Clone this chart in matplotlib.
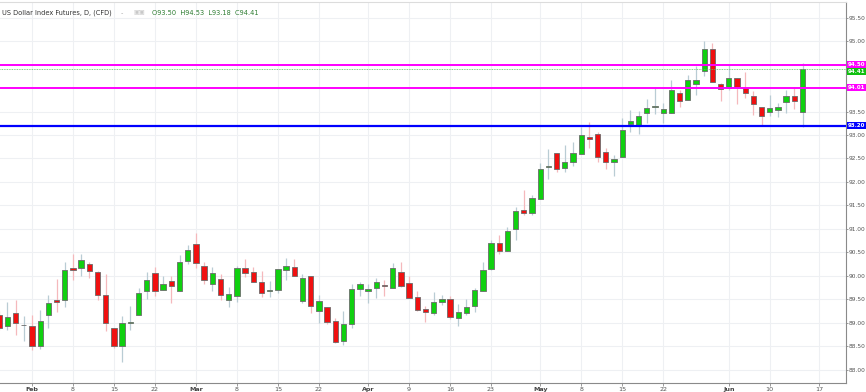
import numpy as np
import matplotlib
matplotlib.use("Agg")
import matplotlib.pyplot as plt
import matplotlib.transforms as mtransforms

# Daily candles (bar index 0..98)
opens = [89.17, 88.94, 89.22, 88.95, 88.94, 88.50, 89.18, 89.48, 89.49, 90.17,
         90.18, 90.26, 90.08, 89.60, 88.89, 88.50, 89.00, 89.17, 89.67, 90.07,
         89.70, 89.89, 89.67, 90.31, 90.68, 90.21, 89.84, 89.94, 89.49, 89.58,
         90.18, 90.08, 89.88, 89.69, 89.70, 90.13, 90.19, 89.47, 89.99, 89.26,
         89.33, 89.04, 88.62, 88.97, 89.72, 89.68, 89.74, 89.81, 89.75, 90.08,
         89.86, 89.55, 89.29, 89.21, 89.45, 89.50, 89.11, 89.22, 89.36, 89.67,
         90.15, 90.70, 90.54, 91.01, 91.40, 91.35, 91.64, 92.31, 92.61, 92.29,
         92.43, 92.59, 92.95, 93.02, 92.63, 92.43, 92.54, 93.23, 93.21, 93.46,
         93.60, 93.47, 93.47, 93.89, 93.75, 94.09, 94.37, 94.82, 94.08, 93.99,
         94.21, 94.01, 93.84, 93.60, 93.49, 93.54, 93.71, 93.84, 93.50]
highs = [89.25, 89.45, 89.49, 89.15, 89.17, 89.28, 89.60, 89.94, 90.29, 90.47,
         90.47, 90.30, 90.10, 90.04, 88.90, 89.15, 89.36, 89.74, 90.08, 90.20,
         90.00, 90.00, 90.45, 90.67, 90.91, 90.30, 90.20, 90.04, 89.76, 90.22,
         90.36, 90.20, 90.11, 89.89, 90.14, 90.39, 90.36, 90.04, 89.99, 89.60,
         89.33, 89.10, 89.26, 89.84, 89.88, 89.84, 89.95, 89.91, 90.28, 90.30,
         90.00, 89.67, 89.36, 89.66, 89.60, 89.57, 89.40, 89.50, 89.74, 90.30,
         90.77, 90.87, 91.05, 91.46, 91.82, 91.72, 92.40, 92.70, 92.61, 92.79,
         92.86, 93.16, 93.28, 93.07, 92.73, 92.57, 93.36, 93.53, 93.51, 93.77,
         93.99, 93.69, 94.16, 93.95, 94.28, 94.47, 95.00, 94.95, 94.10, 94.49,
         94.21, 94.33, 93.93, 93.60, 93.85, 93.68, 93.95, 94.01, 94.53]
lows = [88.85, 88.85, 88.74, 88.62, 88.43, 88.45, 88.89, 89.24, 89.35, 89.91,
        90.00, 89.96, 89.49, 88.83, 88.47, 88.16, 88.85, 89.17, 89.50, 89.57,
        89.70, 89.43, 89.67, 90.25, 90.16, 89.84, 89.67, 89.49, 89.35, 89.44,
        89.97, 89.88, 89.56, 89.56, 89.63, 89.91, 89.99, 89.42, 89.22, 89.01,
        88.98, 88.57, 88.53, 88.90, 89.58, 89.42, 89.53, 89.58, 89.75, 89.77,
        89.53, 89.26, 89.03, 89.17, 89.38, 89.09, 88.94, 89.17, 89.24, 89.67,
        90.13, 90.47, 90.54, 90.77, 91.30, 91.30, 91.64, 92.06, 92.22, 92.22,
        92.33, 92.59, 92.72, 92.42, 92.27, 92.13, 92.54, 93.07, 93.02, 93.26,
        93.45, 93.25, 93.47, 93.59, 93.75, 93.85, 94.26, 94.13, 93.73, 93.95,
        93.66, 93.78, 93.43, 93.21, 93.40, 93.38, 93.47, 93.55, 93.18]
closes = [88.89, 89.13, 88.99, 88.96, 88.50, 89.04, 89.42, 89.45, 90.13, 90.13,
          90.33, 90.11, 89.60, 88.99, 88.50, 89.01, 89.02, 89.64, 89.91, 89.67,
          89.82, 89.79, 90.29, 90.56, 90.28, 89.91, 90.06, 89.60, 89.61, 90.16,
          90.07, 89.88, 89.64, 89.70, 90.14, 90.21, 89.99, 89.95, 89.37, 89.47,
          89.03, 88.60, 88.97, 89.72, 89.82, 89.72, 89.87, 89.79, 90.16, 89.79,
          89.53, 89.28, 89.24, 89.45, 89.50, 89.13, 89.23, 89.35, 89.70, 90.13,
          90.71, 90.54, 90.96, 91.38, 91.35, 91.65, 92.27, 92.35, 92.27, 92.43,
          92.61, 92.99, 92.91, 92.54, 92.43, 92.48, 93.11, 93.30, 93.40, 93.57,
          93.62, 93.55, 93.95, 93.72, 94.17, 94.17, 94.82, 94.13, 93.98, 94.21,
          94.02, 93.90, 93.65, 93.40, 93.57, 93.59, 93.83, 93.72, 94.41]

# x-axis labels at bar indices
tick_idx = [4, 9, 14, 19, 24, 29, 34, 39, 45, 50, 55, 60, 66, 71, 76, 81, 89, 94, 100]
tick_lbl = ["Feb", "8", "15", "22", "Mar", "8", "15", "22", "Apr", "9", "16", "23",
            "May", "8", "15", "22", "Jun", "10", "17"]
months = {"Feb", "Mar", "Apr", "May", "Jun"}

# drawn levels
magenta_levels = [94.50, 94.01]
blue_levels = [93.20]
last_close = 94.41

title = "US Dollar Index Futures, D, (CFD)"
ohlc_text = "O93.50  H94.53  L93.18  C94.41"

NARROW = ["Liberation Sans Narrow", "DejaVu Sans"]

W, H = 866, 392
fig = plt.figure(figsize=(W / 100, H / 100), dpi=100)
ax = fig.add_axes([0, 9 / H, 846 / W, 381 / H])

x = np.arange(len(opens))
o = np.array(opens)
c = np.array(closes)
up = c >= o

# wicks
wick_col = np.where(up, "#b9ccd4", "#f5b8bc")
ax.vlines(x, lows, highs, colors=wick_col, lw=0.9, zorder=2)

# bodies
body_col = np.where(up, "#10d010", "#f01010")
bottom = np.minimum(o, c)
height = np.maximum(np.abs(c - o), 0.012)
ax.bar(x, height, bottom=bottom, width=0.65, color=body_col,
       edgecolor="#6b6b6b", linewidth=0.6, zorder=3)

# horizontal levels
for lv in magenta_levels:
    ax.axhline(lv, color="#ff00ff", lw=1.4, zorder=4)
for lv in blue_levels:
    ax.axhline(lv, color="#0000ff", lw=1.6, zorder=4)
ax.axhline(last_close, color="#5fbf5f", lw=0.6, ls=(0, (1, 1)), zorder=4)

ax.set_xlim(0.1, 103.3)
ax.set_ylim(87.723, 95.83)

# grid
yt = np.arange(88.0, 95.51, 0.5)
for v in yt:
    ax.axhline(v, color="#eef0f3", lw=0.8, zorder=0)
for t in tick_idx:
    ax.axvline(t, color="#eef0f3", lw=0.8, zorder=0)

# axes styling
ax.spines["left"].set_visible(False)
ax.spines["top"].set_color("#dcdcdc")
ax.spines["top"].set_linewidth(0.8)
ax.spines["right"].set_color("#8a8a8a")
ax.spines["bottom"].set_color("#8a8a8a")

ax.yaxis.tick_right()
ax.set_yticks(yt)
ax.set_yticklabels(["" if v in (94.0, 94.5) else f"{v:.2f}" for v in yt],
                   family=NARROW)
ax.tick_params(axis="y", labelsize=4.2, labelcolor="#555555", length=1.5,
               color="#8a8a8a", pad=0.5, width=0.6)

ax.set_xticks(tick_idx)
ax.set_xticklabels(tick_lbl)
ax.tick_params(axis="x", labelsize=4.6, labelcolor="#555555", length=2,
               color="#8a8a8a", pad=0.8, width=0.6)
for lab in ax.get_xticklabels():
    if lab.get_text() in months:
        lab.set_fontweight("bold")
        lab.set_color("#444444")

# price labels on the right scale (the 94.41 tag is nudged down as on the chart)
trans = mtransforms.blended_transform_factory(ax.transAxes, ax.transData)
boxes = [(94.50, 94.50, "#ff00ff"), (last_close, 94.35, "#10c010"),
         (94.01, 94.01, "#ff00ff"), (93.20, 93.20, "#0000ff")]
for val, ypos, col in boxes:
    ax.text(1.0025, ypos, f"{val:.2f}", transform=trans, fontsize=4.0, color="white",
            family=NARROW, fontweight="bold", va="center", ha="left",
            clip_on=False, zorder=6,
            bbox=dict(boxstyle="square,pad=0.15", fc=col, ec="none"))

# header
fig.text(2 / W, 1 - 13 / H, title, fontsize=4.8, color="#333333", va="center", ha="left")
fig.text(121 / W, 1 - 13 / H, "-", fontsize=4.8, color="#aaaaaa", va="center", ha="left")
fig.text(133 / W, 1 - 13 / H, "▣▣", fontsize=4.5, color="#c8c8c8", va="center", ha="left")
fig.text(152 / W, 1 - 13 / H, ohlc_text, fontsize=4.8, color="#2e7d32", va="center", ha="left")

fig.savefig("out.png", dpi=100)
